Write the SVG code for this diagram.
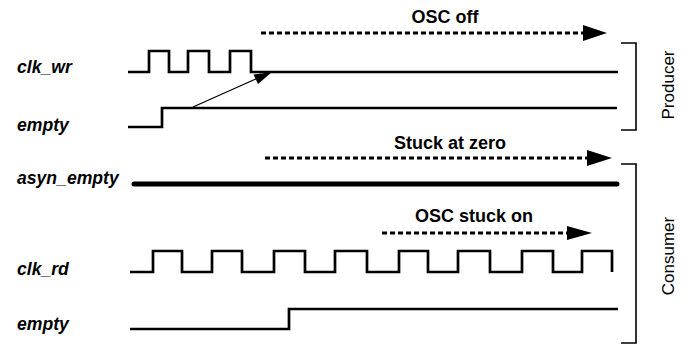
<svg xmlns="http://www.w3.org/2000/svg" width="694" height="348" viewBox="0 0 694 348">
<style>
.sig{fill:none;stroke:#000;stroke-width:2.7;stroke-linejoin:miter}
.lbl{font-family:"Liberation Sans",Arial,sans-serif;font-size:17.6px;font-weight:bold;font-style:italic;fill:#000}
.note{font-family:"Liberation Sans",Arial,sans-serif;font-size:18px;font-weight:bold;fill:#000;text-anchor:middle}
.grp{font-family:"Liberation Sans",Arial,sans-serif;font-size:17px;fill:#000;text-anchor:middle}
.dash{fill:none;stroke:#000;stroke-width:2.8;stroke-dasharray:5 3}
.brk{fill:none;stroke:#000;stroke-width:1.6}
</style>
<rect width="694" height="348" fill="#fff"/>
<g id="clk_wr">
<text class="lbl" x="17" y="73">clk_wr</text>
<path class="sig" d="M128,72 H149 V51 H169 V72 H188 V51 H209 V72 H230 V51 H251 V72 H618"/>
</g>
<g id="empty_wr">
<text class="lbl" x="17" y="131">empty</text>
<path class="sig" d="M128,127 H162 V108 H617"/>
</g>
<g id="asyn_empty">
<text class="lbl" x="17" y="184">asyn_empty</text>
<path d="M134,184 H617" fill="none" stroke="#000" stroke-width="5" stroke-linecap="round"/>
</g>
<g id="clk_rd">
<text class="lbl" x="17" y="275">clk_rd</text>
<path class="sig" d="M130,272 H153 V251 H182 V272 H212 V251 H242 V272 H274 V251 H305 V272 H335 V251 H367 V272 H399 V251 H428 V272 H458 V251 H490 V272 H522 V251 H553 V272 H582 V251 H612 V272"/>
</g>
<g id="empty_rd">
<text class="lbl" x="17" y="330">empty</text>
<path class="sig" d="M130,329 H289 V309 H618"/>
</g>
<g id="producer">
<polyline class="brk" points="621,43 636,43 636,130 621,130"/>
<text class="grp" transform="translate(674,85) rotate(-90)">Producer</text>
</g>
<g id="consumer">
<polyline class="brk" points="621,164 636,164 636,343 621,343"/>
<text class="grp" transform="translate(674,256) rotate(-90)">Consumer</text>
</g>
<g id="connectors">
<text class="note" x="445" y="23">OSC off</text>
<line class="dash" x1="261" y1="33" x2="584" y2="33"/>
<polygon points="583,25 607,33 583,41" fill="#000"/>
<text class="note" x="450" y="149">Stuck at zero</text>
<line class="dash" x1="265" y1="158" x2="588" y2="158"/>
<polygon points="587,150 612,158 587,166" fill="#000"/>
<text class="note" x="474" y="222">OSC stuck on</text>
<line class="dash" x1="382" y1="233" x2="568" y2="233"/>
<polygon points="567,226 592,233 567,240" fill="#000"/>
<line x1="193" y1="107" x2="258" y2="78" stroke="#000" stroke-width="1.3"/>
<polygon points="272,72 253.5,74.5 258,84" fill="#000"/>
</g>
</svg>
